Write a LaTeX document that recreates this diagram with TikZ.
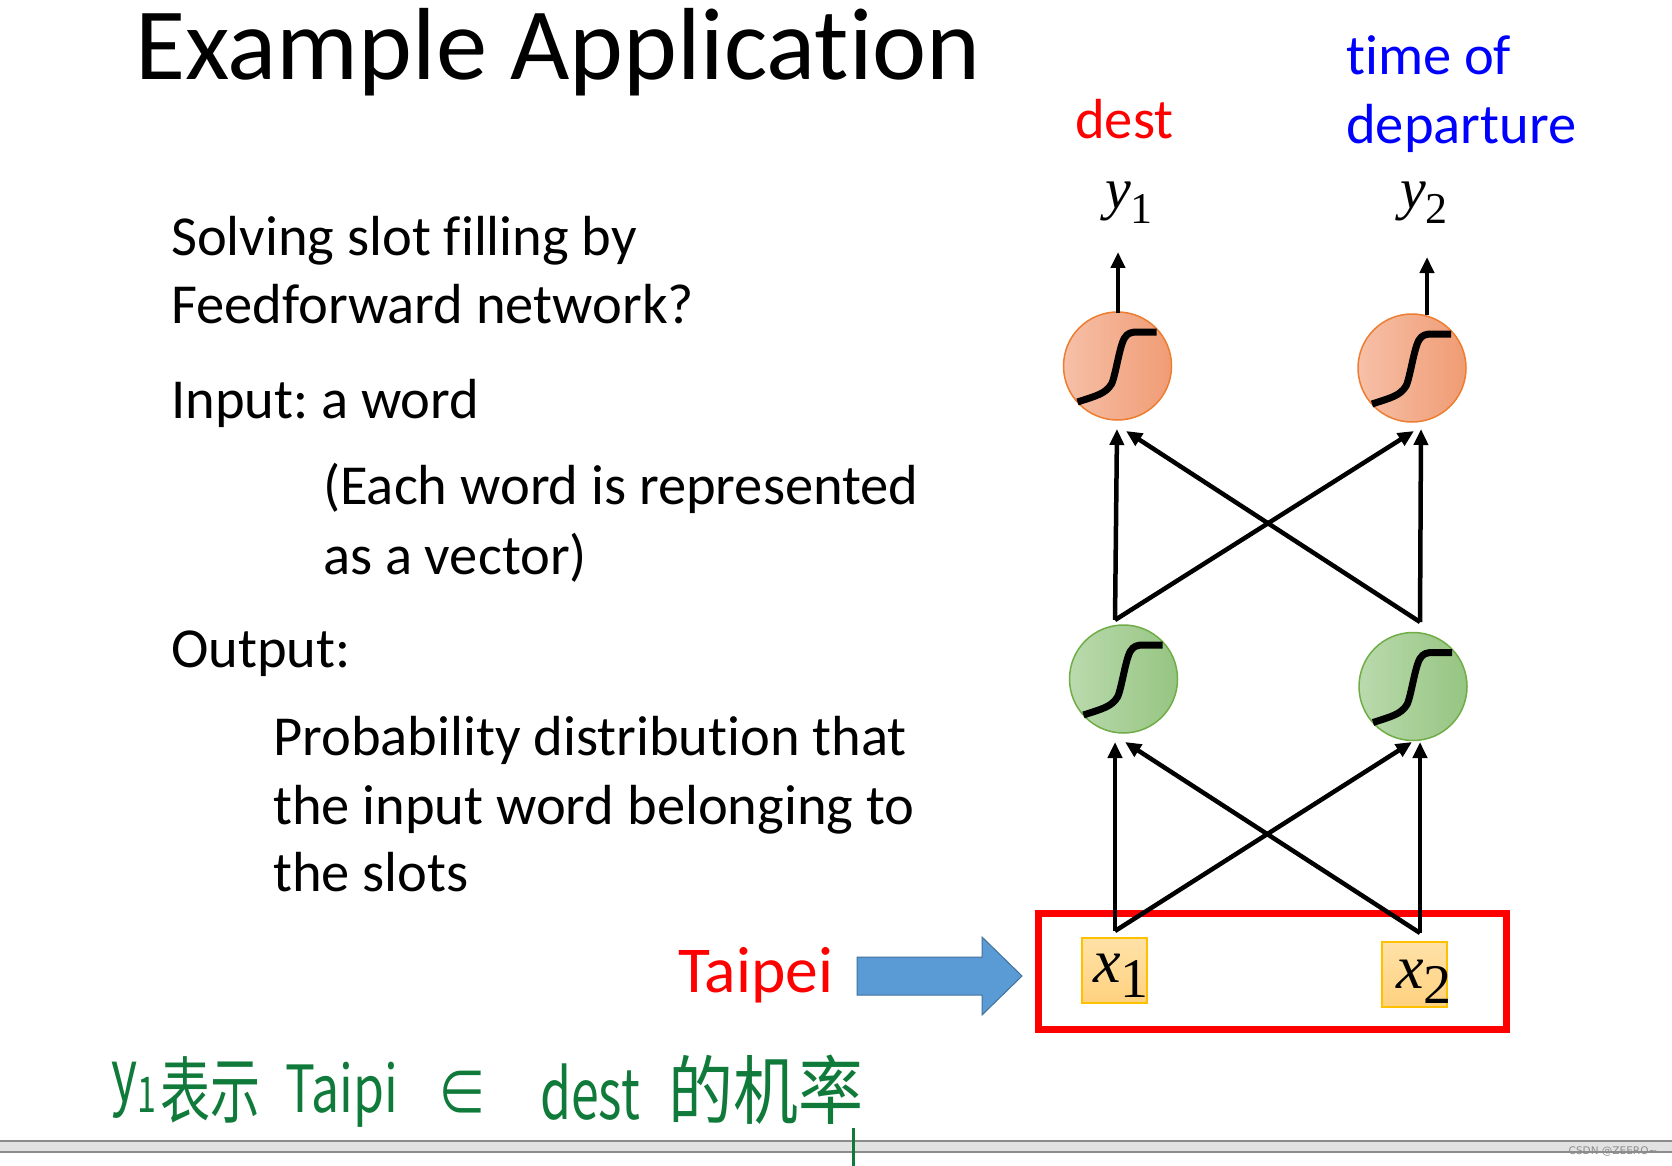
\documentclass[tikz,border=0pt]{standalone}
\usepackage{fontspec}
\setmainfont{Carlito}[Ligatures={NoCommon}]
\newfontfamily\timesf{Liberation Serif}
\newfontfamily\cjk{Noto Sans CJK SC}
\newfontfamily\dejavu{DejaVu Sans}
\usetikzlibrary{arrows.meta}
\frenchspacing
\newcommand{\fsz}[1]{\fontsize{#1}{#1}\selectfont}
\newcommand{\ylab}[2]{{\fsz{58}\timesf\itshape #1}\raisebox{-15pt}{\fsz{44}\timesf #2}}
\newcommand{\xlab}[2]{{\fsz{62}\timesf\itshape #1}\raisebox{-15pt}{\fsz{56}\timesf #2}}
\definecolor{orgL}{HTML}{F6C0A8}
\definecolor{orgR}{HTML}{F09C74}
\definecolor{orgB}{HTML}{ED7D31}
\definecolor{grnL}{HTML}{BADAAD}
\definecolor{grnR}{HTML}{96C582}
\definecolor{grnB}{HTML}{70AD47}
\definecolor{inpT}{HTML}{FFE2A8}
\definecolor{inpB}{HTML}{FFD17F}
\definecolor{inpD}{HTML}{FFC000}
\definecolor{arrF}{HTML}{5B9BD5}
\definecolor{arrD}{HTML}{41719C}
\definecolor{hand}{HTML}{0F7A3A}
\definecolor{lblue}{HTML}{0000FF}
\definecolor{barF}{HTML}{E2E2E2}
\definecolor{barD}{HTML}{8C8C8C}
\tikzset{
  txt/.style={anchor=base west, inner sep=0pt, font=\fsz{56.5}\frenchspacing},
  ocirc/.style={circle, minimum size=108pt, inner sep=0pt, left color=orgL, right color=orgR, draw=orgB, line width=1.5pt},
  gcirc/.style={circle, minimum size=108pt, inner sep=0pt, left color=grnL, right color=grnR, draw=grnB, line width=1.5pt},
  inbox/.style={rectangle, minimum size=65pt, inner sep=0pt, top color=inpT, bottom color=inpB, draw=inpD, line width=1.5pt},
  sigl/.style={line width=7pt, black},
  conn/.style={line width=4.5pt, black, -{Triangle[length=16pt,width=14pt]}},
  handtxt/.style={inner sep=0pt, text=hand, font=\cjk\fsz{50}},
}
\newcommand{\sigmoid}[1]{\draw[sigl, shift={(#1.center)}] (-40,36) .. controls (-22,30) and (-12,28) .. (-6,18) .. controls (-2,10) and (2,-20) .. (7,-28) .. controls (10,-33) and (14,-34) .. (20,-34) -- (39,-34);}
\begin{document}
\begin{tikzpicture}[x=1pt,y=-1pt]
\useasboundingbox (0,0) rectangle (1672,1166);
\fill[white] (0,0) rectangle (1672,1166);

% title
\node[anchor=base west, inner sep=0pt, font=\fsz{102.5}] (title) at (135,80) {Example Application};

% left text
\node[txt] (l1) at (171,256) {Solving slot filling by};
\node[txt] (l2) at (171,323) {Feedforward network?};
\node[txt] (l3) at (171,418) {Input: a word};
\node[txt] (l4) at (323,504) {(Each word is represented};
\node[txt] (l5) at (323,574) {as a vector)};
\node[txt] (l6) at (171,667) {Output:};
\node[txt] (l7) at (273,755) {Probability distribution that};
\node[txt] (l8) at (273,824) {the input word belonging to};
\node[txt] (l9) at (273,891) {the slots};

% slot labels
\node[txt, text=red] (dest) at (1075,139) {dest};
\node[txt, text=lblue] (tod1) at (1346,75) {time of};
\node[txt, text=lblue] (tod2) at (1346,144) {departure};

% outputs
\node[anchor=base west, inner sep=0pt] (y1) at (1105,209) {\ylab{y}{1}};
\node[anchor=base west, inner sep=0pt] (y2) at (1400,209) {\ylab{y}{2}};

% neurons
\node[ocirc] (o1) at (1117.5,366) {};
\node[ocirc] (o2) at (1412,368) {};
\node[gcirc] (h1) at (1123.5,679) {};
\node[gcirc] (h2) at (1413,686.5) {};
\sigmoid{o1}
\sigmoid{o2}
\sigmoid{h1}
\sigmoid{h2}

% input
\draw[red, line width=7pt] (1038.5,913.5) rectangle (1506.5,1029.5);
\node[inbox] (x1) at (1114.5,970.5) {};
\node[inbox] (x2) at (1414.5,974.5) {};
\node[anchor=base west, inner sep=0pt] (x1t) at (1093,982) {\xlab{x}{1}};
\node[anchor=base west, inner sep=0pt] (x2t) at (1396,988) {\xlab{x}{2}};

% connector end points
\coordinate (xs1) at (1115,931);
\coordinate (xs2) at (1420,933);
\coordinate (h1v) at (1115,742);
\coordinate (h1d) at (1125,742);
\coordinate (h2d) at (1412,742);
\coordinate (h2v) at (1420,742);
\coordinate (hs1) at (1115,620);
\coordinate (hs2) at (1420,622);
\coordinate (o1v) at (1117,429);
\coordinate (o1d) at (1126,431);
\coordinate (o2d) at (1414,431);
\coordinate (o2v) at (1421,429);
\coordinate (os1) at (1118,313);
\coordinate (ot1) at (1118,252);
\coordinate (os2) at (1427,315);
\coordinate (ot2) at (1427,257);

\draw[conn] (xs1) -- (h1v);
\draw[conn] (xs1) -- (h2d);
\draw[conn] (xs2) -- (h2v);
\draw[conn] (xs2) -- (h1d);
\draw[conn] (hs1) -- (o1v);
\draw[conn] (hs1) -- (o2d);
\draw[conn] (hs2) -- (o2v);
\draw[conn] (hs2) -- (o1d);
\draw[conn] (os1) -- (ot1);
\draw[conn] (os2) -- (ot2);

% Taipei and arrow
\node[txt, text=red, font=\fsz{65.5}] (taipei) at (678,992) {Taipei};
\draw[fill=arrF, draw=arrD, line width=1pt] (857,957) -- (982,957) -- (982,937) -- (1022,976) -- (982,1015) -- (982,995) -- (857,995) -- cycle;

% bottom bar
\fill[barF] (0,1141) rectangle (1672,1152);
\draw[barD, line width=1.5pt] (0,1141) -- (1672,1141);
\draw[barD, line width=1.5pt] (0,1152) -- (1672,1152);
\node[inner sep=0pt, text=barD, font=\dejavu\fsz{10.5}] (wm) at (1613,1152) {CSDN @ZEERO\textasciitilde};

% handwriting
\node[handtxt] (hw1) at (134,1090) {\scalebox{1}[1.45]{y\raisebox{-8pt}{\fsz{34}1}}};
\node[handtxt] (hw2) at (210,1090) {\scalebox{1}[1.45]{表示}};
\node[handtxt] (hw3) at (342,1095) {\scalebox{1}[1.3]{Taipi}};
\node[handtxt] (hw4) at (462,1094) {\scalebox{1}[1.3]{∈}};
\node[handtxt] (hw5) at (590,1092) {\scalebox{1}[1.4]{dest}};
\node[handtxt] (hw6) at (766,1090) {\scalebox{1.3}[1.5]{的机率}};
\draw[hand, line width=3pt] (853,1128) -- (853,1166);
\end{tikzpicture}
\end{document}
